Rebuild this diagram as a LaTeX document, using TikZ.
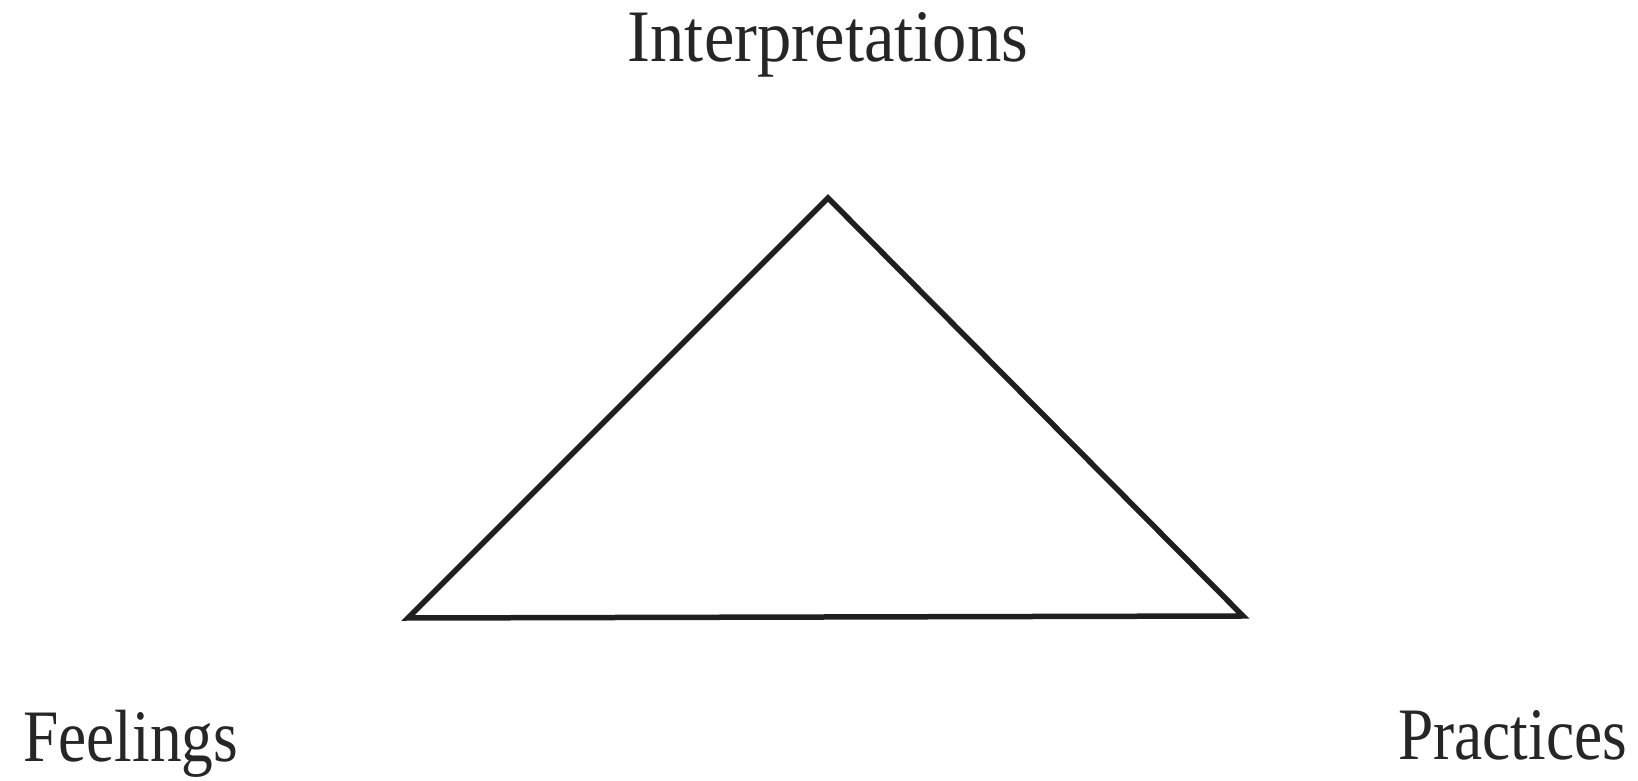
\documentclass[tikz,border=0pt]{standalone}
\usepackage{fontspec}
\setmainfont{Liberation Serif}
\usepackage{graphicx}
\begin{document}
\begin{tikzpicture}[x=1pt,y=1pt,
  lbl/.style={inner sep=0pt, text=black!85, font=\fontsize{74}{80}\selectfont},
  edge/.style={line width=5.5pt, draw=black!88, line join=miter}]
\useasboundingbox (0,0) rectangle (1638,781);
\coordinate (top) at (828,583);
\coordinate (left) at (408,163);
\coordinate (right) at (1243,165);
\draw[edge] (top) -- (right) -- (left) -- cycle;
\node[lbl, anchor=base] (interp) at (828,719) {\scalebox{0.928}[1]{Interpretations}};
\node[lbl, anchor=base west] (feel) at (23,19) {\scalebox{0.857}[1]{Feelings}};
\node[lbl, anchor=base west] (prac) at (1398,21) {\scalebox{0.857}[1]{Practices}};
\end{tikzpicture}
\end{document}
